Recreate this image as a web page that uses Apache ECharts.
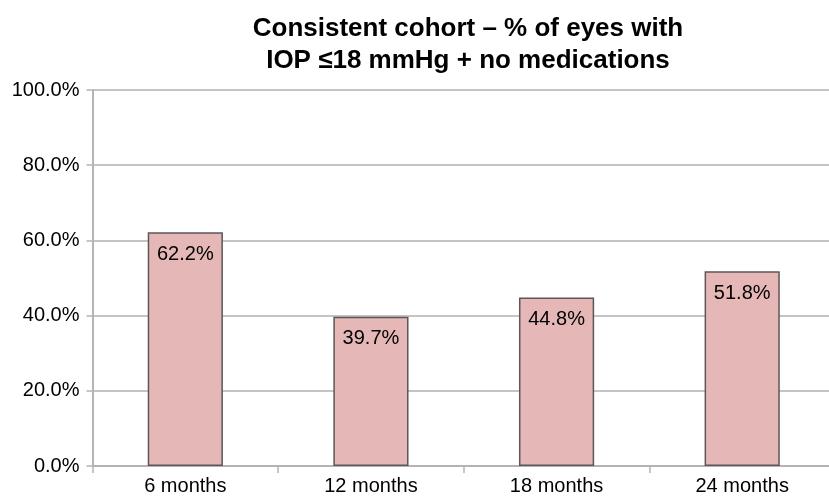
<!DOCTYPE html>
<html><head><meta charset="utf-8">
<script src="https://cdn.jsdelivr.net/npm/echarts@6/dist/echarts.min.js"></script>
<style>html,body{margin:0;padding:0;background:#fff;overflow:hidden;width:829px;height:497px}#c{width:835px;height:497px}</style>
</head><body><div id="c"></div>
<script>
const categories = ["6 months", "12 months", "18 months", "24 months"];
const values = [62.2, 39.7, 44.8, 51.8];
const yTicks = [0, 20, 40, 60, 80, 100];

const chart = echarts.init(document.getElementById('c'), null, {renderer: 'canvas'});
chart.setOption({
  animation: false,
  backgroundColor: '#fff',
  title: {
    text: 'Consistent cohort – % of eyes with\nIOP ≤18 mmHg + no medications',
    left: 463, top: 8, textAlign: 'center',
    textStyle: {fontFamily: 'Liberation Sans', fontWeight: 'bold', fontSize: 26, color: '#000', lineHeight: 32}
  },
  grid: {left: 92.5, right: 0, top: 90, bottom: 31, containLabel: false},
  xAxis: {
    type: 'category', data: categories,
    axisLine: {lineStyle: {color: '#b4b4b4', width: 2}},
    axisTick: {show: true, length: 7, lineStyle: {color: '#b4b4b4', width: 1.5}},
    axisLabel: {fontFamily: 'Liberation Sans', fontSize: 20, color: '#000', margin: 10}
  },
  yAxis: {
    type: 'value', min: yTicks[0], max: yTicks[yTicks.length - 1], interval: 20,
    axisLine: {show: true, lineStyle: {color: '#b4b4b4', width: 2}},
    axisTick: {show: true, length: 6, lineStyle: {color: '#b4b4b4', width: 1.5}},
    splitLine: {lineStyle: {color: '#c4c4c4', width: 2}},
    axisLabel: {fontFamily: 'Liberation Sans', fontSize: 20, color: '#000', margin: 13,
      formatter: v => v.toFixed(1) + '%'}
  },
  series: [{
    type: 'bar', data: values, barWidth: '40.5%',
    itemStyle: {color: '#e5b8b7', borderColor: '#5e5656', borderWidth: 1.5},
    label: {show: true, position: 'insideTop', distance: 12, fontFamily: 'Liberation Sans', fontSize: 20, color: '#000',
      formatter: p => p.value.toFixed(1) + '%'}
  }]
});
</script></body></html>
